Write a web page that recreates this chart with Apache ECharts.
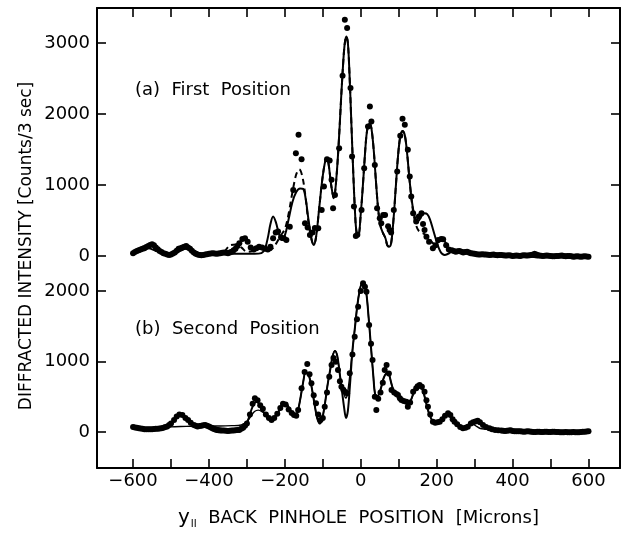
<!DOCTYPE html>
<html>
<head>
<meta charset="utf-8">
<script src="https://cdn.jsdelivr.net/npm/echarts@6/dist/echarts.min.js"></script>
<style>html,body{margin:0;padding:0;background:#fff;}#c{width:629px;height:537px;}</style>
</head>
<body>
<div id="c"></div>
<script>
// ---------- DATA ----------
const xTickValues = [-600,-500,-400,-300,-200,-100,0,100,200,300,400,500,600];
const xLabelValues = [-600,-400,-200,0,200,400,600];
const topYLabels = [0,1000,2000,3000];
const bottomYLabels = [0,1000,2000];

// (a) First Position - measured points
const topDots = [[-600,40],[-595,55],[-590,70],[-585,80],[-580,90],[-575,100],[-570,110],[-565,125],[-560,140],[-555,155],[-550,165],[-545,150],[-540,120],[-535,95],[-530,70],[-525,55],[-520,40],[-515,30],[-510,20],[-505,15],[-500,20],[-495,35],[-490,50],[-485,75],[-480,100],[-475,110],[-470,120],[-465,130],[-460,140],[-455,120],[-450,100],[-445,75],[-440,50],[-435,30],[-430,20],[-425,15],[-420,10],[-415,15],[-410,20],[-405,25],[-400,30],[-395,35],[-390,40],[-385,35],[-380,30],[-375,35],[-370,40],[-365,45],[-360,50],[-355,45],[-350,40],[-345,50],[-340,60],[-335,80],[-330,100],[-325,140],[-320,180],[-312,240],[-305,250],[-298,200],[-290,120],[-282,90],[-275,110],[-268,130],[-260,120],[-252,100],[-245,90],[-238,130],[-231,250],[-224,330],[-218,343],[-210,260],[-203,250],[-196,225],[-187,413],[-178,930],[-171,1448],[-164,1706],[-156,1364],[-147,461],[-140,400],[-134,296],[-127,330],[-121,395],[-112,390],[-103,649],[-97,977],[-89,1364],[-82,1344],[-77,1072],[-73,672],[-68,860],[-57,1519],[-48,2539],[-42,3329],[-36,3211],[-27,2365],[-23,1400],[-18,696],[-13,280],[-9,300],[2,649],[9,1236],[19,1824],[24,2106],[28,1894],[37,1283],[43,672],[50,531],[54,461],[59,578],[64,578],[72,420],[76,367],[80,330],[87,649],[96,1189],[104,1692],[110,1932],[116,1848],[124,1495],[129,1118],[133,836],[138,602],[146,484],[153,555],[160,602],[164,450],[168,367],[173,272],[180,200],[190,108],[197,150],[204,225],[212,240],[217,235],[225,150],[232,90],[240,80],[245,70],[250,60],[255,65],[260,70],[265,60],[270,50],[275,55],[280,60],[285,50],[290,40],[295,35],[300,30],[305,25],[310,20],[315,22],[320,25],[325,22],[330,20],[335,18],[340,15],[345,18],[350,20],[355,15],[360,10],[365,12],[370,15],[375,10],[380,5],[385,8],[390,10],[395,5],[400,0],[405,3],[410,5],[415,2],[420,0],[425,5],[430,10],[435,8],[440,5],[445,10],[450,15],[455,12],[460,10],[465,8],[470,5],[475,2],[480,0],[485,3],[490,5],[495,2],[500,0],[505,-3],[510,-5],[515,-2],[520,0],[525,3],[530,5],[535,0],[540,-5],[545,-2],[550,0],[555,-5],[560,-10],[565,-8],[570,-5],[575,-8],[580,-10],[585,-8],[590,-5],[595,-8],[600,-10]];

// (a) solid calculated curve
const topSolid = [[-600,50],[-580,80],[-560,110],[-540,70],[-520,40],[-500,30],[-480,60],[-460,100],[-440,60],[-420,30],[-400,30],[-380,30],[-360,30],[-340,30],[-320,30],[-300,30],[-280,30],[-262,40],[-252,110],[-244,280],[-238,450],[-231,555],[-224,480],[-216,320],[-209,225],[-200,290],[-190,520],[-180,760],[-170,900],[-160,950],[-152,945],[-145,800],[-138,520],[-130,250],[-124,155],[-118,260],[-110,650],[-102,1050],[-95,1300],[-90,1380],[-85,1300],[-78,1000],[-71,813],[-65,1050],[-58,1600],[-52,2200],[-46,2750],[-42,3000],[-38,3093],[-34,3000],[-30,2600],[-25,1900],[-20,1200],[-15,600],[-11,330],[-6,300],[0,600],[5,950],[10,1350],[15,1700],[20,1850],[24,1860],[28,1800],[34,1500],[40,1050],[46,650],[52,420],[58,330],[65,250],[70,150],[75,131],[80,180],[86,500],[92,950],[98,1400],[104,1680],[110,1760],[116,1700],[122,1450],[128,1100],[134,800],[140,600],[146,510],[152,500],[160,560],[168,600],[175,590],[182,520],[190,380],[200,200],[210,60],[221,14],[230,30],[240,60],[250,50],[270,60],[290,50],[320,40],[350,30],[400,20],[440,20],[458,60],[475,20],[500,10],[550,0],[600,-5]];

// (a) dashed calculated curve
const topDashed = [[-600,60],[-580,120],[-560,150],[-545,160],[-530,90],[-510,30],[-490,50],[-470,110],[-455,140],[-440,80],[-420,30],[-400,20],[-380,30],[-360,60],[-345,150],[-330,160],[-315,120],[-300,60],[-285,70],[-270,100],[-255,90],[-240,80],[-225,160],[-212,280],[-200,380],[-190,600],[-180,900],[-170,1150],[-162,1220],[-154,1120],[-146,850],[-138,480],[-130,230],[-124,160],[-118,260],[-110,650],[-102,1050],[-95,1300],[-90,1380],[-85,1300],[-78,1000],[-71,813],[-65,1050],[-58,1600],[-52,2200],[-46,2750],[-42,3000],[-38,3093],[-34,3000],[-30,2600],[-25,1900],[-20,1200],[-15,600],[-11,330],[-6,300],[0,600],[5,950],[10,1350],[15,1700],[20,1850],[24,1860],[28,1800],[34,1500],[40,1050],[46,650],[52,420],[58,330],[65,250],[70,150],[75,131],[80,180],[86,500],[92,950],[98,1400],[104,1680],[110,1760],[116,1700],[122,1450],[128,1100],[134,780],[140,560],[146,430],[152,360],[160,330],[170,300],[180,250],[190,180],[200,170],[212,250],[222,200],[232,120],[240,80],[250,60],[270,60],[290,50],[320,40],[350,30],[400,20],[440,20],[458,40],[475,20],[500,10],[550,0],[600,-5]];

// (b) Second Position - measured points
const bottomDots = [[-600,70],[-595,65],[-590,60],[-585,55],[-580,50],[-575,45],[-570,40],[-565,40],[-560,40],[-555,40],[-550,40],[-545,42],[-540,45],[-535,48],[-530,50],[-525,55],[-520,60],[-515,70],[-510,80],[-505,100],[-500,120],[-492,170],[-485,220],[-478,250],[-470,240],[-462,200],[-455,170],[-448,130],[-440,100],[-435,90],[-430,80],[-425,85],[-420,90],[-415,95],[-410,100],[-405,90],[-400,80],[-395,65],[-390,50],[-385,40],[-380,30],[-375,25],[-370,20],[-365,20],[-360,20],[-355,18],[-350,15],[-345,18],[-340,20],[-335,22],[-330,25],[-325,28],[-320,30],[-315,45],[-310,60],[-305,90],[-300,120],[-292,250],[-285,400],[-279,478],[-272,450],[-265,380],[-258,330],[-250,250],[-242,200],[-235,170],[-228,200],[-220,260],[-212,340],[-205,400],[-198,390],[-190,320],[-182,270],[-176,241],[-170,230],[-165,312],[-156,620],[-148,850],[-141,965],[-135,820],[-130,690],[-124,520],[-118,407],[-112,250],[-106,170],[-100,200],[-95,359],[-89,560],[-83,785],[-77,950],[-72,1050],[-66,997],[-60,879],[-55,720],[-51,643],[-46,600],[-42,572],[-36,550],[-29,832],[-22,1100],[-16,1352],[-10,1600],[-7,1777],[0,2000],[6,2109],[11,2060],[15,1990],[22,1518],[27,1250],[31,1021],[37,501],[41,312],[46,470],[52,560],[58,700],[63,880],[68,950],[74,830],[81,596],[88,560],[94,540],[98,525],[103,480],[107,454],[113,440],[120,430],[124,359],[130,420],[138,572],[146,620],[150,650],[155,667],[161,640],[168,572],[173,450],[177,359],[183,250],[190,146],[196,130],[202,140],[208,146],[215,180],[222,230],[230,265],[236,240],[242,180],[247,146],[254,110],[262,70],[269,52],[276,60],[282,75],[290,120],[296,140],[302,150],[308,160],[314,140],[322,99],[330,70],[339,52],[346,40],[354,30],[362,25],[370,20],[375,18],[380,15],[385,18],[390,20],[395,25],[400,15],[405,12],[410,10],[415,10],[420,10],[425,8],[430,5],[435,8],[440,10],[445,8],[450,5],[455,2],[460,0],[465,3],[470,5],[475,2],[480,0],[485,3],[490,5],[495,2],[500,0],[505,3],[510,5],[515,2],[520,0],[525,-3],[530,-5],[535,-2],[540,0],[545,-3],[550,-5],[555,-2],[560,0],[565,-3],[570,-5],[575,-2],[580,0],[585,3],[590,5],[595,8],[600,10]];

// (b) first calculated curve
const bottomLineA = [[-600,80],[-580,70],[-560,50],[-540,50],[-520,60],[-505,100],[-490,180],[-478,250],[-468,240],[-455,160],[-445,100],[-430,80],[-415,100],[-405,110],[-395,90],[-380,60],[-360,40],[-340,30],[-320,40],[-305,80],[-295,200],[-285,360],[-275,430],[-265,380],[-255,270],[-245,200],[-235,170],[-225,220],[-212,330],[-202,410],[-195,400],[-185,300],[-175,230],[-168,260],[-160,450],[-152,700],[-145,850],[-138,820],[-130,650],[-122,400],[-115,200],[-108,120],[-102,180],[-95,380],[-88,650],[-80,900],[-74,1080],[-68,1150],[-62,1080],[-56,850],[-50,600],[-44,350],[-39,200],[-34,300],[-28,700],[-22,1150],[-15,1500],[-9,1800],[-3,2000],[3,2100],[9,2090],[15,1950],[21,1600],[27,1200],[33,800],[38,530],[44,510],[52,600],[60,760],[68,830],[74,820],[80,700],[88,560],[95,520],[105,480],[115,440],[125,380],[132,450],[140,560],[148,620],[156,660],[164,580],[172,420],[180,260],[190,150],[200,130],[210,170],[220,230],[230,250],[240,200],[250,120],[260,70],[270,40],[280,60],[290,110],[300,140],[310,150],[320,110],[330,60],[340,30],[360,20],[380,15],[400,20],[420,10],[450,10],[500,5],[550,5],[600,10]];

// (b) second calculated curve
const bottomLineB = [[-600,70],[-560,60],[-520,70],[-490,75],[-460,80],[-430,85],[-400,85],[-370,85],[-340,90],[-315,100],[-300,150],[-290,220],[-280,290],[-270,310],[-258,280],[-245,230],[-235,200],[-225,220],[-212,330],[-202,400],[-195,390],[-185,290],[-175,230],[-168,260],[-160,450],[-152,700],[-145,850],[-138,820],[-130,650],[-122,400],[-115,200],[-108,120],[-102,180],[-95,380],[-88,650],[-80,900],[-74,1080],[-68,1150],[-62,1080],[-56,850],[-50,650],[-44,540],[-40,480],[-36,520],[-30,750],[-22,1150],[-15,1500],[-9,1800],[-3,2000],[3,2100],[9,2090],[15,1950],[21,1600],[27,1200],[33,800],[38,530],[44,510],[52,600],[60,760],[68,830],[74,820],[80,700],[88,560],[95,520],[105,480],[115,440],[125,380],[132,450],[140,560],[148,620],[156,660],[164,580],[172,420],[180,260],[190,150],[200,130],[210,170],[220,230],[230,250],[240,200],[250,120],[260,70],[270,50],[285,90],[295,110],[305,80],[315,50],[330,40],[345,30],[360,20],[380,15],[400,20],[420,10],[450,10],[500,5],[550,5],[600,10]];

// ---------- CHART ----------
const FONT = 'DejaVu Sans';
const chart = echarts.init(document.getElementById('c'), null, {renderer: 'canvas'});
const lineStyleAxis = {color: '#000', width: 2};
const tickStyle = {color: '#000', width: 1.6};
const minusFmt = v => (v < 0 ? '\u2212' + (-v) : String(v));
const plainFmt = v => String(v);

function xAx(grid, pos, labels) {
  return {
    type: 'value', gridIndex: grid, position: pos, min: -695, max: 683,
    axisLine: {show: true, onZero: false, lineStyle: lineStyleAxis},
    axisTick: {show: true, inside: true, length: 9, lineStyle: tickStyle, customValues: xTickValues},
    axisLabel: labels ? {show: true, customValues: xLabelValues, formatter: minusFmt, color: '#000', fontFamily: FONT, fontSize: 18, margin: 4} : {show: false},
    splitLine: {show: false}
  };
}
function yAx(grid, pos, min, max, vals, labels) {
  return {
    type: 'value', gridIndex: grid, position: pos, min: min, max: max,
    axisLine: {show: true, onZero: false, lineStyle: lineStyleAxis},
    axisTick: {show: true, inside: true, length: 9, lineStyle: tickStyle, customValues: vals},
    axisLabel: labels ? {show: true, customValues: vals, formatter: plainFmt, color: '#000', fontFamily: FONT, fontSize: 18, margin: 7} : {show: false},
    splitLine: {show: false}
  };
}

const dotStyle = {color: '#000', opacity: 1};
chart.setOption({
  animation: false,
  backgroundColor: '#fff',
  grid: [
    {left: 97, top: 8, width: 523, height: 266},
    {left: 97, top: 274, width: 523, height: 194}
  ],
  xAxis: [xAx(0, 'top', false), xAx(1, 'bottom', true)],
  yAxis: [
    yAx(0, 'left', -254, 3493, topYLabels, true),
    yAx(0, 'right', -254, 3493, topYLabels, false),
    yAx(1, 'left', -510, 2240, bottomYLabels, true),
    yAx(1, 'right', -510, 2240, bottomYLabels, false)
  ],
  series: [
    {type: 'line', xAxisIndex: 0, yAxisIndex: 0, data: topSolid, smooth: 0.35, showSymbol: false, lineStyle: {color: '#000', width: 2}},
    {type: 'line', xAxisIndex: 0, yAxisIndex: 0, data: topDashed, smooth: 0.35, showSymbol: false, lineStyle: {color: '#000', width: 2, type: [6, 4]}},
    {type: 'scatter', xAxisIndex: 0, yAxisIndex: 0, data: topDots, symbolSize: 6, itemStyle: dotStyle},
    {type: 'line', xAxisIndex: 1, yAxisIndex: 2, data: bottomLineA, smooth: 0.35, showSymbol: false, lineStyle: {color: '#000', width: 2}},
    {type: 'line', xAxisIndex: 1, yAxisIndex: 2, data: bottomLineB, smooth: 0.35, showSymbol: false, lineStyle: {color: '#000', width: 1.4}},
    {type: 'scatter', xAxisIndex: 1, yAxisIndex: 2, data: bottomDots, symbolSize: 6, itemStyle: dotStyle}
  ],
  graphic: [
    {type: 'text', left: 135, top: 81, style: {text: '(a)  First  Position', font: '18px "DejaVu Sans"', fill: '#000'}},
    {type: 'text', left: 135, top: 320, style: {text: '(b)  Second  Position', font: '18px "DejaVu Sans"', fill: '#000'}},
    {type: 'text', x: 27, y: 246, rotation: Math.PI / 2, style: {text: 'DIFFRACTED INTENSITY [Counts/3 sec]', font: '17px "DejaVu Sans"', fill: '#000', align: 'center', verticalAlign: 'middle'}},
    {type: 'text', left: 178, top: 508, style: {
      text: '{y|y}{s|II}  BACK  PINHOLE  POSITION  [Microns]',
      font: '18px "DejaVu Sans"', fill: '#000',
      rich: {y: {fontFamily: FONT, fontSize: 20}, s: {fontFamily: FONT, fontSize: 10, padding: [12, 0, 0, 1]}}
    }}
  ]
});
</script>
</body>
</html>
